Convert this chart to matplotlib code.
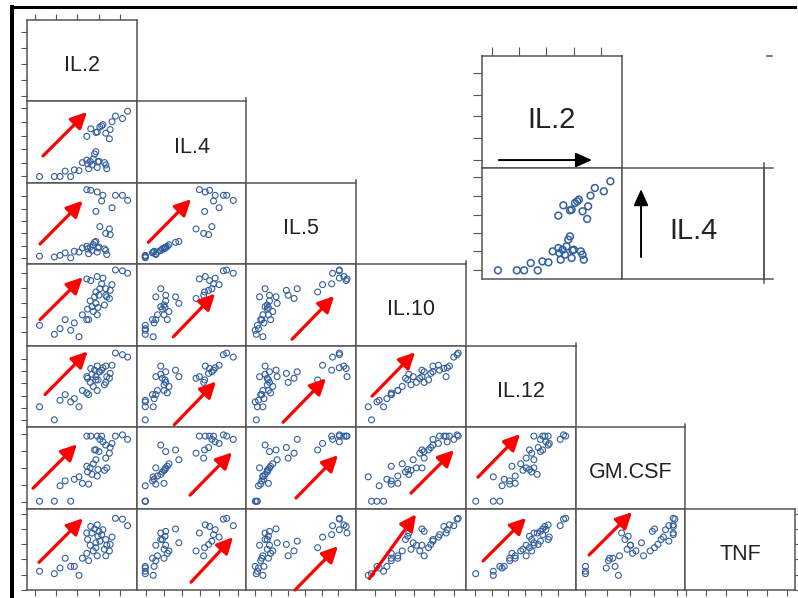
import numpy as np
import matplotlib.pyplot as plt
from matplotlib.lines import Line2D
from matplotlib.patches import Rectangle

W, H = 798, 598

names = ['IL.2', 'IL.4', 'IL.5', 'IL.10', 'IL.12', 'GM.CSF', 'TNF']

# 36 samples, values (scaled 0..1 of each panel)
il2 = [0.114, 0.249, 0.301, 0.348, 0.398, 0.431, 0.474, 0.505, 0.545, 0.552, 0.562, 0.576,
       0.592, 0.604, 0.616, 0.628, 0.640, 0.647, 0.656, 0.706, 0.718, 0.727,
       0.545, 0.581, 0.628, 0.640, 0.664, 0.680, 0.692, 0.718, 0.751, 0.758, 0.775, 0.806,
       0.870, 0.917]
il4 = [0.078, 0.078, 0.078, 0.144, 0.078, 0.159, 0.150, 0.249, 0.279, 0.234, 0.174, 0.264,
       0.219, 0.294, 0.354, 0.384, 0.189, 0.258, 0.264, 0.249, 0.219, 0.174,
       0.571, 0.664, 0.619, 0.625, 0.685, 0.700, 0.715, 0.610, 0.541, 0.655, 0.751, 0.820,
       0.790, 0.880]
il5 = [0.10, 0.09, 0.11, 0.14, 0.08, 0.16, 0.15, 0.20, 0.22, 0.19, 0.13, 0.21,
       0.17, 0.24, 0.27, 0.28, 0.15, 0.20, 0.21, 0.19, 0.17, 0.12,
       0.917, 0.909, 0.649, 0.888, 0.463, 0.777, 0.847, 0.380, 0.434, 0.364, 0.694, 0.847,
       0.847, 0.785]
il10 = [0.25, 0.14, 0.21, 0.32, 0.19, 0.28, 0.11, 0.38, 0.32, 0.45, 0.32, 0.55,
        0.48, 0.42, 0.60, 0.52, 0.38, 0.47, 0.62, 0.50, 0.70, 0.60,
        0.82, 0.80, 0.66, 0.85, 0.70, 0.76, 0.83, 0.62, 0.58, 0.68, 0.75, 0.93,
        0.92, 0.89]
il12 = [0.25, 0.09, 0.33, 0.40, 0.31, 0.35, 0.25, 0.45, 0.42, 0.60, 0.40, 0.55,
        0.65, 0.50, 0.70, 0.62, 0.45, 0.58, 0.68, 0.52, 0.75, 0.62,
        0.62, 0.72, 0.58, 0.75, 0.68, 0.70, 0.73, 0.55, 0.60, 0.66, 0.76, 0.91,
        0.89, 0.86]
gmcsf = [0.09, 0.09, 0.28, 0.34, 0.09, 0.36, 0.39, 0.31, 0.52, 0.45, 0.30, 0.50,
         0.42, 0.55, 0.72, 0.60, 0.40, 0.48, 0.70, 0.47, 0.78, 0.50,
         0.89, 0.89, 0.72, 0.89, 0.85, 0.89, 0.82, 0.62, 0.68, 0.75, 0.80, 0.89,
         0.905, 0.85]
tnf = [0.23, 0.20, 0.27, 0.39, 0.29, 0.29, 0.18, 0.39, 0.45, 0.62, 0.36, 0.55,
       0.70, 0.48, 0.75, 0.58, 0.42, 0.66, 0.72, 0.50, 0.62, 0.55,
       0.70, 0.78, 0.52, 0.80, 0.60, 0.68, 0.74, 0.42, 0.48, 0.56, 0.65, 0.88,
       0.87, 0.79]
data = [il2, il4, il5, il10, il12, gmcsf, tnf]

# tick positions for each variable
ticks = [
    [0.07, 0.265, 0.46, 0.655, 0.85],
    [0.083, 0.25, 0.415, 0.58, 0.75, 0.92],
    [0.075, 0.227, 0.379, 0.53, 0.685, 0.837],
    [0.17, 0.35, 0.53, 0.71, 0.89],
    [0.086, 0.235, 0.385, 0.537, 0.685, 0.838],
    [0.085, 0.29, 0.50, 0.713, 0.92],
    [0.005, 0.187, 0.375, 0.56, 0.745, 0.93],
]

# red trend arrows (tail, head) in axes fraction, per panel (row, col)
arrows = {
    (1, 0): ((0.146, 0.33), (0.547, 0.87)),
    (2, 0): ((0.119, 0.25), (0.508, 0.78)),
    (2, 1): ((0.106, 0.27), (0.495, 0.80)),
    (3, 0): ((0.119, 0.32), (0.508, 0.84)),
    (3, 1): ((0.334, 0.11), (0.714, 0.64)),
    (3, 2): ((0.416, 0.08), (0.80, 0.61)),
    (4, 0): ((0.164, 0.40), (0.553, 0.93)),
    (4, 1): ((0.343, 0.03), (0.723, 0.56)),
    (4, 2): ((0.334, 0.06), (0.725, 0.60)),
    (4, 3): ((0.145, 0.38), (0.537, 0.92)),
    (5, 0): ((0.055, 0.25), (0.456, 0.79)),
    (5, 1): ((0.486, 0.165), (0.869, 0.69)),
    (5, 2): ((0.452, 0.13), (0.835, 0.656)),
    (5, 3): ((0.50, 0.19), (0.892, 0.717)),
    (5, 4): ((0.11, 0.386), (0.494, 0.914)),
    (6, 0): ((0.11, 0.34), (0.51, 0.88)),
    (6, 1): ((0.495, 0.096), (0.878, 0.649)),
    (6, 2): ((0.443, 0.0), (0.835, 0.538)),
    (6, 3): ((0.12, 0.14), (0.546, 0.93)),
    (6, 4): ((0.157, 0.357), (0.549, 0.885)),
    (6, 5): ((0.123, 0.43), (0.515, 0.956)),
}

edge = '#555555'
blue = '#335f9c'

fig = plt.figure(figsize=(W / 100, H / 100), dpi=100)


def px_axes(x0, y0, x1, y1):
    ax = fig.add_axes([x0 / W, 1 - y1 / H, (x1 - x0) / W, (y1 - y0) / H])
    ax.set_xlim(0, 1)
    ax.set_ylim(0, 1)
    ax.set_xticks([])
    ax.set_yticks([])
    for s in ax.spines.values():
        s.set_color(edge)
        s.set_linewidth(1.1)
    return ax


def fig_line(xs, ys, **kw):
    fig.add_artist(Line2D([x / W for x in xs], [1 - y / H for y in ys],
                          transform=fig.transFigure, **kw))


cx = np.linspace(27, 795, 8)
ry = np.linspace(20, 590, 8)
tk = dict(direction='out', length=4.3, width=0.8, color=edge)

for i in range(7):
    for j in range(i + 1):
        ax = px_axes(cx[j], ry[i], cx[j + 1], ry[i + 1])
        if j == 0:
            ax.set_yticks(ticks[i])
            ax.tick_params(axis='y', labelleft=False, **tk)
        if i == 6:
            ax.set_xticks(ticks[j])
            ax.tick_params(axis='x', labelbottom=False, **tk)
        if i == 0:
            ax.set_xticks(ticks[0])
            ax.tick_params(axis='x', bottom=False, top=True, labelbottom=False,
                           labeltop=False, **tk)
        if i == j:
            ax.text(0.5, 0.44, names[i], ha='center', va='center', fontsize=15.5,
                    family='Liberation Sans', color='#222222')
            if i == 6:
                ax.set_yticks(ticks[6])
                ax.tick_params(axis='y', left=False, right=True, labelleft=False,
                               labelright=False, direction='out', length=2.5,
                               width=0.8, color=edge)
            if 0 < i < 6:
                fig_line([cx[i + 1], cx[i + 1]], [ry[i] - 3, ry[i]], color=edge, lw=1.1)
        else:
            ax.scatter(data[j], data[i], s=18, facecolors='none', edgecolors=blue,
                       linewidths=0.8, zorder=3)
            tail, head = arrows[(i, j)]
            ax.annotate('', xy=head, xytext=tail, xycoords='axes fraction',
                        arrowprops=dict(arrowstyle='-|>,head_length=0.8,head_width=0.4',
                                        color='red', lw=2.3, mutation_scale=12,
                                        shrinkA=0, shrinkB=0))

# enlarged inset of the IL.2 / IL.4 panel
tki = dict(direction='out', length=6.5, width=0.8, color=edge)
a_top = px_axes(482, 56, 622, 168)
a_top.set_xticks(ticks[0])
a_top.set_yticks(ticks[0])
a_top.tick_params(axis='x', bottom=False, top=True, labelbottom=False, labeltop=False, **tki)
a_top.tick_params(axis='y', labelleft=False, **tki)
a_top.text(0.5, 0.43, 'IL.2', ha='center', va='center', fontsize=21,
           family='Liberation Sans', color='#222222')
a_top.annotate('', xy=(0.786, 0.071), xytext=(0.12, 0.071), xycoords='axes fraction',
               arrowprops=dict(arrowstyle='-|>,head_length=0.9,head_width=0.4',
                               color='black', lw=1.4, mutation_scale=11,
                               shrinkA=0, shrinkB=0))

a_sc = px_axes(482, 168, 622, 279)
a_sc.set_yticks(ticks[1])
a_sc.tick_params(axis='y', labelleft=False, **tki)
a_sc.scatter(il2, il4, s=24, facecolors='none', edgecolors=blue, linewidths=1.1, zorder=3)

a_d = px_axes(622, 168, 764, 279)
a_d.text(0.5, 0.43, 'IL.4', ha='center', va='center', fontsize=21,
         family='Liberation Sans', color='#222222')
a_d.annotate('', xy=(0.134, 0.81), xytext=(0.134, 0.198), xycoords='axes fraction',
             arrowprops=dict(arrowstyle='-|>,head_length=0.9,head_width=0.4',
                             color='black', lw=1.4, mutation_scale=11,
                             shrinkA=0, shrinkB=0))
fig_line([764, 773], [168, 168], color=edge, lw=1.1)
fig_line([764, 773], [279, 279], color=edge, lw=1.1)
fig_line([764, 764], [163, 283], color=edge, lw=1.1)
fig_line([767, 772], [56, 56], color=edge, lw=1.1)

# screenshot frame
fig.add_artist(Rectangle((10 / W, 0), 3.5 / W, (H - 5) / H, transform=fig.transFigure,
                         color='black', lw=0))
fig.add_artist(Rectangle((10 / W, 1 - 9 / H), 787 / W, 3 / H, transform=fig.transFigure,
                         color='black', lw=0))

fig.savefig('out.png', dpi=100)
